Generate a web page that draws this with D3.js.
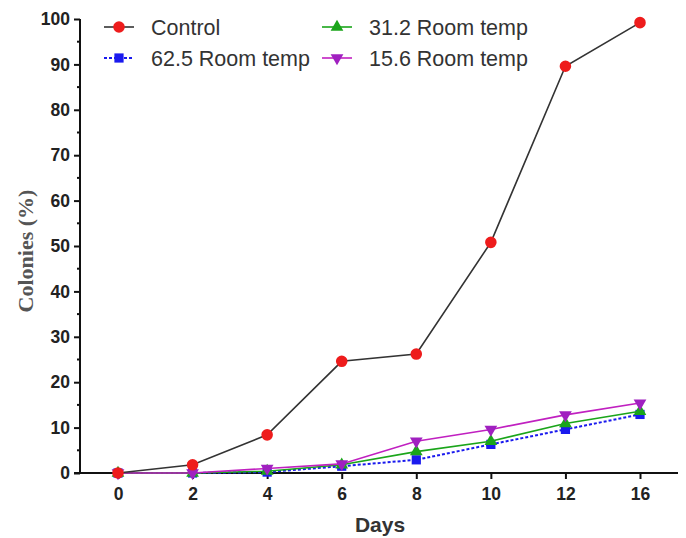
<!DOCTYPE html>
<html>
<head>
<meta charset="UTF-8">
<title>Colonies (%)</title>
<script src="https://cdnjs.cloudflare.com/ajax/libs/d3/7.8.5/d3.min.js"></script>
<style>
  body { margin: 0; background: #fff; }
  text { font-family: "Liberation Sans", Arial, sans-serif; }
</style>
</head>
<body>
<svg id="chart" width="686" height="538"></svg>
<script>
// days are drawn as evenly spaced categories
const days = ["0", "2", "4", "6", "8", "10", "12", "16"];
const control = [0, 1.8, 8.4, 24.6, 26.2, 50.8, 89.6, 99.2];
const temp625 = [0, 0, 0.2, 1.5, 2.9, 6.3, 9.6, 12.9];
const temp312 = [0, 0, 0.4, 1.8, 4.7, 7.0, 10.9, 13.6];
const temp156 = [0, 0, 1.0, 2.0, 7.0, 9.6, 12.8, 15.4];
const yTicks = [0, 10, 20, 30, 40, 50, 60, 70, 80, 90, 100];

const series = [
  { name: "Control", values: control, color: "#ee1c1c", line: "#333", dash: null, shape: d3.symbolCircle, size: 105 },
  { name: "31.2 Room temp", values: temp312, color: "#1aa51a", line: "#1aa51a", dash: null, shape: d3.symbolTriangle, size: 70 },
  { name: "62.5 Room temp", values: temp625, color: "#1a1aee", line: "#1a1aee", dash: "3,2", shape: d3.symbolSquare, size: 85 },
  { name: "15.6 Room temp", values: temp156, color: "#a020c0", line: "#c020c0", dash: null, shape: d3.symbolTriangle, size: 70, flip: true }
];

const svg = d3.select("#chart");
const x = d3.scalePoint().domain(days).range([118, 640]);
const y = d3.scaleLinear().domain([0, 100]).range([473, 19]);

// y axis
const yAxis = svg.append("g").attr("transform", "translate(80,0)")
  .call(d3.axisLeft(y).tickValues(yTicks).tickSize(6).tickPadding(4));
yAxis.select(".domain").attr("stroke", "#111").attr("stroke-width", 2).attr("d", "M0,473V19");
yAxis.selectAll(".tick line").attr("stroke", "#111").attr("stroke-width", 2);
yAxis.selectAll("text").attr("font-size", 17.5).attr("font-weight", "bold").attr("fill", "#222");
// minor ticks
yAxis.selectAll(".minor").data(d3.range(5, 100, 10)).join("line")
  .attr("x1", -3).attr("x2", 0).attr("y1", d => y(d)).attr("y2", d => y(d))
  .attr("stroke", "#111").attr("stroke-width", 2);

// x axis
const xAxis = svg.append("g").attr("transform", "translate(0,473)")
  .call(d3.axisBottom(x).tickSize(6).tickPadding(9));
xAxis.select(".domain").attr("stroke", "#111").attr("stroke-width", 2).attr("d", "M74,0H678");
xAxis.selectAll(".tick line").attr("stroke", "#111").attr("stroke-width", 2);
xAxis.selectAll("text").attr("font-size", 17.5).attr("font-weight", "bold").attr("fill", "#222");

svg.append("text").attr("x", 380).attr("y", 532).attr("text-anchor", "middle")
  .attr("font-size", 21).attr("font-weight", "bold").attr("fill", "#333").text("Days");
svg.append("text").attr("transform", "translate(33,251) rotate(-90)").attr("text-anchor", "middle")
  .style("font-family", "'Liberation Serif', 'Times New Roman', serif")
  .attr("font-size", 22).attr("font-weight", "bold").attr("fill", "#555").text("Colonies (%)");

// lines, drawn so that control sits on top
const line = d3.line().x((d, i) => x(days[i])).y(d => y(d));
const order = [series[2], series[1], series[3], series[0]];
order.forEach(s => {
  svg.append("path").datum(s.values).attr("d", line)
    .attr("fill", "none").attr("stroke", s.line).attr("stroke-width", s.dash ? 2 : 1.6)
    .attr("stroke-dasharray", s.dash);
  svg.append("g").selectAll("path").data(s.values).join("path")
    .attr("d", d3.symbol().type(s.shape).size(s.size))
    .attr("transform", (d, i) => `translate(${x(days[i])},${y(d)})${s.flip ? " rotate(180)" : ""}`)
    .attr("fill", s.color);
});

// legend
const legendPos = [[119, 27], [337, 27], [119, 58], [337, 58]];
series.forEach((s, i) => {
  const [lx, ly] = legendPos[i];
  const g = svg.append("g").attr("transform", `translate(${lx},${ly})`);
  g.append("line").attr("x1", -15).attr("x2", 15)
    .attr("stroke", s.line).attr("stroke-width", s.dash ? 2 : 1.6).attr("stroke-dasharray", s.dash);
  g.append("path").attr("d", d3.symbol().type(s.shape).size(s.size))
    .attr("transform", s.flip ? "rotate(180)" : null).attr("fill", s.color);
  g.append("text").attr("x", 32).attr("y", 7.5).attr("font-size", 21.5).attr("fill", "#333").text(s.name);
});
</script>
</body>
</html>
